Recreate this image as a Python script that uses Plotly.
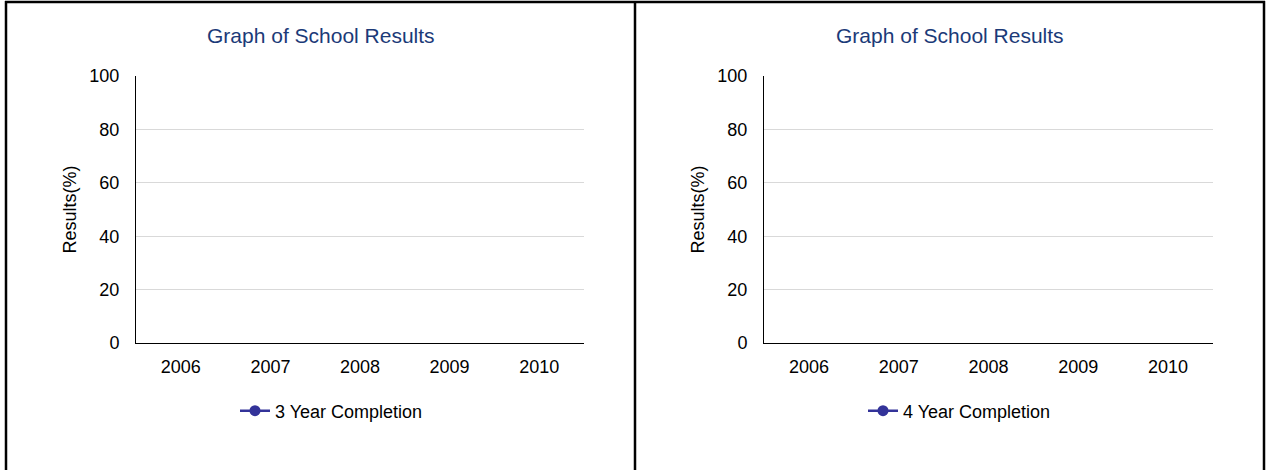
import plotly.graph_objects as go

# ---- data ----
years = ["2006", "2007", "2008", "2009", "2010"]
three_year_completion = [None, None, None, None, None]
four_year_completion = [None, None, None, None, None]
y_ticks = [0, 20, 40, 60, 80, 100]
chart_title = "Graph of School Results"
y_title = "Results(%)"

W, H = 1270, 470
FONT = "Liberation Sans, Arial, sans-serif"
SERIES_COLOR = "#333399"
TITLE_COLOR = "#1B3A78"


def px_x(px):
    return px / W


def px_y(py):
    return 1 - py / H


fig = go.Figure()

fig.add_trace(go.Scatter(
    x=years, y=three_year_completion, name="3 Year Completion",
    mode="lines+markers", line=dict(color=SERIES_COLOR, width=2.5),
    marker=dict(color=SERIES_COLOR, size=11), xaxis="x", yaxis="y",
    legend="legend"))
fig.add_trace(go.Scatter(
    x=years, y=four_year_completion, name="4 Year Completion",
    mode="lines+markers", line=dict(color=SERIES_COLOR, width=2.5),
    marker=dict(color=SERIES_COLOR, size=11), xaxis="x2", yaxis="y2",
    legend="legend2"))

ydom = [px_y(343), px_y(76)]
xcommon = dict(type="category", categoryorder="array", categoryarray=years,
               range=[-0.5, len(years) - 0.5], showgrid=False, zeroline=False,
               showline=True, linecolor="#000000", linewidth=1,
               ticks="outside", ticklen=7, tickcolor="rgba(0,0,0,0)",
               tickfont=dict(family=FONT, size=18, color="#000000"),
               automargin=False, fixedrange=True)
ycommon = dict(range=[0, 100], tickvals=y_ticks, showgrid=True,
               gridcolor="#D9D9D9", gridwidth=1, zeroline=False,
               showline=True, linecolor="#000000", linewidth=1,
               ticks="outside", ticklen=12, tickcolor="rgba(0,0,0,0)",
               tickfont=dict(family=FONT, size=18, color="#000000"),
               title=dict(text=y_title, font=dict(family=FONT, size=18, color="#000000"), standoff=8),
               automargin=False, fixedrange=True)

fig.update_layout(
    template="none",
    width=W, height=H, autosize=False,
    margin=dict(l=0, r=0, t=0, b=0, pad=0, autoexpand=False),
    paper_bgcolor="white", plot_bgcolor="white",
    font=dict(family=FONT, size=18, color="#000000"),
    xaxis=dict(domain=[px_x(136), px_x(584)], anchor="y", **xcommon),
    yaxis=dict(domain=ydom, anchor="x", **ycommon),
    xaxis2=dict(domain=[px_x(764), px_x(1213)], anchor="y2", **xcommon),
    yaxis2=dict(domain=ydom, anchor="x2", **ycommon),
    legend=dict(x=px_x(235), y=px_y(411), xanchor="left", yanchor="middle",
                orientation="h", bgcolor="rgba(0,0,0,0)", borderwidth=0,
                font=dict(family=FONT, size=18, color="#000000")),
    legend2=dict(x=px_x(863), y=px_y(411), xanchor="left", yanchor="middle",
                 orientation="h", bgcolor="rgba(0,0,0,0)", borderwidth=0,
                 font=dict(family=FONT, size=18, color="#000000")),
    showlegend=True,
)

# panel titles
for cx in (320.5, 949.5):
    fig.add_annotation(text=chart_title, x=px_x(cx), y=px_y(35),
                       xref="paper", yref="paper", xanchor="center", yanchor="middle",
                       showarrow=False,
                       font=dict(family=FONT, size=21, color=TITLE_COLOR))

# frame lines
frame = dict(color="#000000", width=2.5)
fig.add_shape(type="line", xref="paper", yref="paper", x0=px_x(5), x1=px_x(1265), y0=px_y(2), y1=px_y(2), line=frame)
fig.add_shape(type="line", xref="paper", yref="paper", x0=px_x(6), x1=px_x(6), y0=px_y(1), y1=px_y(480), line=frame)
fig.add_shape(type="line", xref="paper", yref="paper", x0=px_x(1264), x1=px_x(1264), y0=px_y(1), y1=px_y(480), line=frame)
fig.add_shape(type="line", xref="paper", yref="paper", x0=px_x(635), x1=px_x(635), y0=px_y(1), y1=px_y(480), line=frame)

fig.write_html(
    "out.html",
    config={"displayModeBar": False, "responsive": False},
    post_script="document.body.style.margin='0';document.body.style.overflow='hidden';",
)
